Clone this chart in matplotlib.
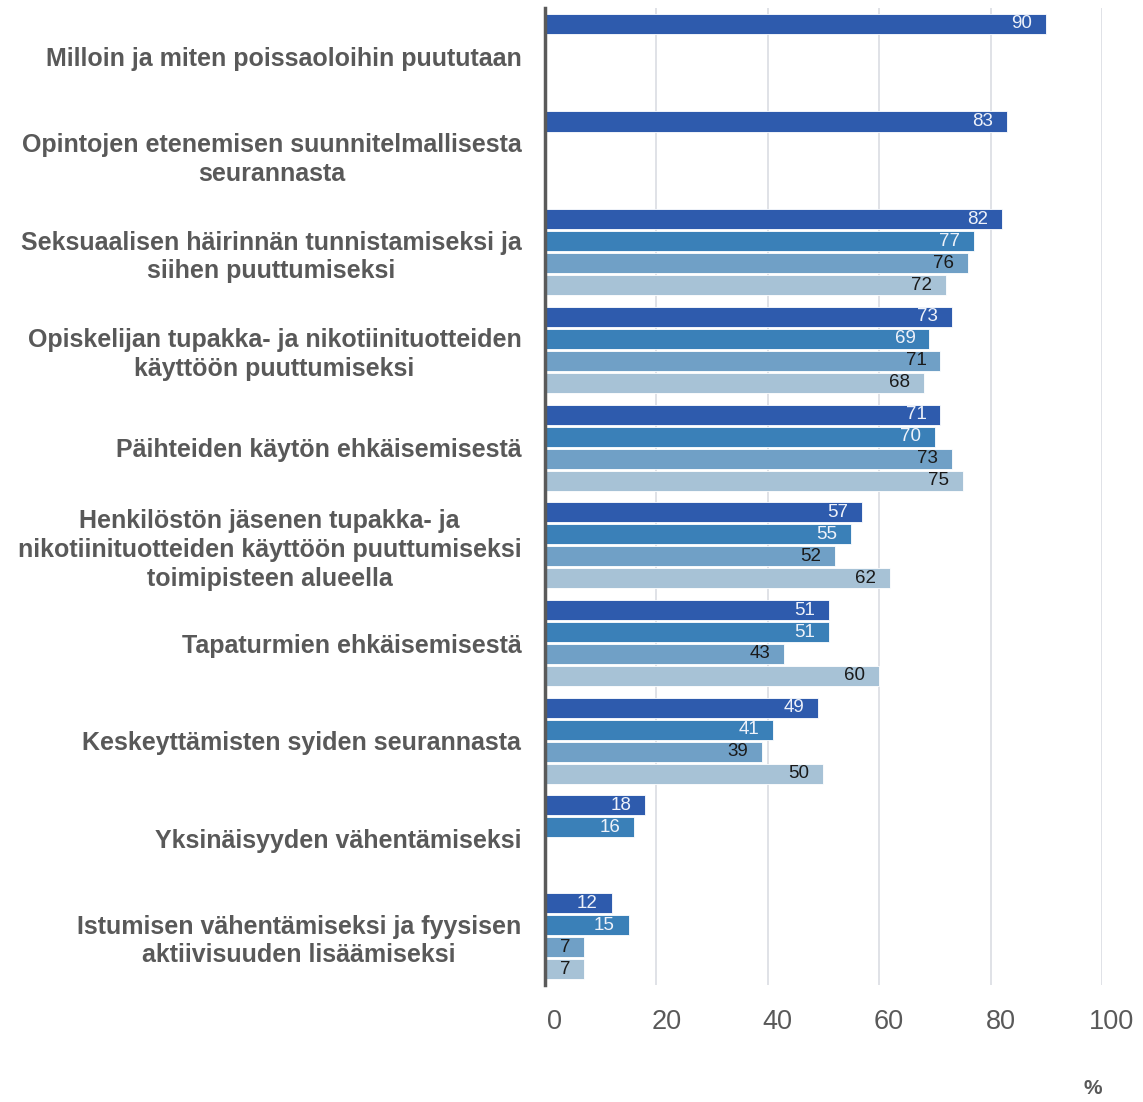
import numpy as np
import matplotlib
matplotlib.use("Agg")
from matplotlib import pyplot as plt
from matplotlib import transforms

plt.rcParams['font.family'] = ['Liberation Sans', 'DejaVu Sans']

categories = [
    "Milloin ja miten poissaoloihin puututaan",
    "Opintojen etenemisen suunnitelmallisesta\nseurannasta",
    "Seksuaalisen häirinnän tunnistamiseksi ja\nsiihen puuttumiseksi",
    "Opiskelijan tupakka- ja nikotiinituotteiden\nkäyttöön puuttumiseksi",
    "Päihteiden käytön ehkäisemisestä",
    "Henkilöstön jäsenen tupakka- ja\nnikotiinituotteiden käyttöön puuttumiseksi\ntoimipisteen alueella",
    "Tapaturmien ehkäisemisestä",
    "Keskeyttämisten syiden seurannasta",
    "Yksinäisyyden vähentämiseksi",
    "Istumisen vähentämiseksi ja fyysisen\naktiivisuuden lisäämiseksi",
]

nan = np.nan
series_1 = [90, 83, 82, 73, 71, 57, 51, 49, 18, 12]
series_2 = [nan, nan, 77, 69, 70, 55, 51, 41, 16, 15]
series_3 = [nan, nan, 76, 71, 73, 52, 43, 39, nan, 7]
series_4 = [nan, nan, 72, 68, 75, 62, 60, 50, nan, 7]

all_series = [series_1, series_2, series_3, series_4]
colors = ['#2E5BAD', '#3A80B8', '#70A0C6', '#A7C2D6']
label_colors = ['#EEF2FA', '#EEF2FA', '#1A1A1A', '#1A1A1A']
gray = '#595959'

fig = plt.figure(figsize=(11.43, 11.02), dpi=100)
ax = fig.add_axes([0.4768, 0.1062, 0.4873, 0.8866])

y = np.arange(len(categories))
slot = 0.225
for k, vals in enumerate(all_series):
    vals = np.array(vals, dtype=float)
    pos = y + (k - 1.5) * slot
    mask = ~np.isnan(vals)
    bars = ax.barh(pos[mask], vals[mask], height=0.205, color=colors[k],
                   edgecolor='white', linewidth=0.6, zorder=3)
    for b, v in zip(bars, vals[mask]):
        ax.annotate(f"{int(v)}", (b.get_width(), b.get_y() + b.get_height() / 2),
                    xytext=(-10, 0), textcoords='offset points',
                    ha='right', va='center', fontsize=13.5,
                    color=label_colors[k], zorder=4)

ax.set_xlim(0, 100)
ax.set_ylim(9.5, -0.5)
ax.set_xticks([0, 20, 40, 60, 80, 100])
ax.set_yticks(y)
ax.set_yticklabels(categories, fontsize=18, fontweight='bold', color=gray,
                   multialignment='center', linespacing=1.25)
ax.tick_params(axis='y', length=0, pad=17)
ax.tick_params(axis='x', length=0, pad=17, labelsize=19.5, labelcolor=gray)

# tick labels in the original sit a little right of their grid lines
offset = transforms.ScaledTranslation(10 / 100, 0, fig.dpi_scale_trans)
for lab in ax.get_xticklabels():
    lab.set_transform(lab.get_transform() + offset)

ax.grid(axis='x', color='#DADDE3', linewidth=1.2, zorder=0)
ax.set_axisbelow(True)
for s in ['top', 'right', 'bottom']:
    ax.spines[s].set_visible(False)
ax.spines['left'].set_color('#5A5A5A')
ax.spines['left'].set_linewidth(2.5)
ax.spines['left'].set_zorder(5)

fig.text(1093 / 1143, 1 - 1088 / 1102, "%", ha='center', va='center',
         fontsize=15, fontweight='bold', color=gray)

fig.savefig("out.png", dpi=100)
